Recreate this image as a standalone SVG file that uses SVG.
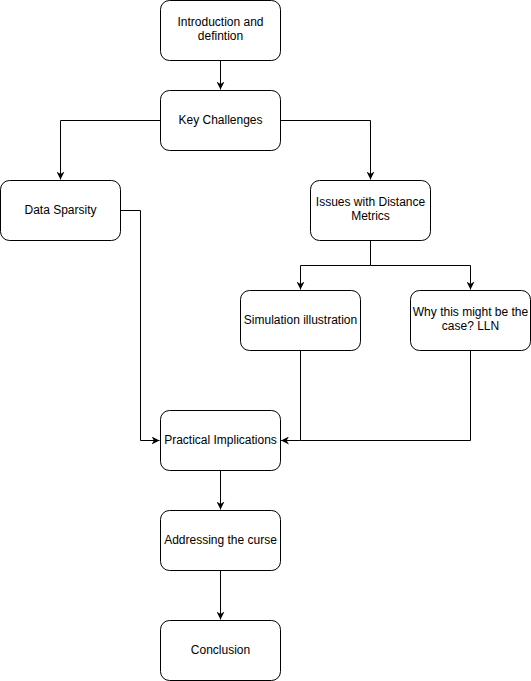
<svg xmlns="http://www.w3.org/2000/svg" width="531" height="681" viewBox="0 0 531 681">
<style>
.node rect{fill:#ffffff;stroke:#000000;stroke-width:1}
.node text{font-family:"Liberation Sans",Arial,Helvetica,sans-serif;font-size:12px;fill:#000000;text-anchor:middle}
.edge{fill:none;stroke:#000000;stroke-width:1}
</style>
<defs>
<marker id="arr" viewBox="0 0 10 10" refX="10" refY="5" markerWidth="8" markerHeight="8" markerUnits="userSpaceOnUse" orient="auto">
<path d="M0,0 L10,5 L0,10 L3,5 Z" fill="#000000"/>
</marker>
</defs>
<rect x="0" y="0" width="531" height="681" fill="#ffffff"/>
<g id="connectors">
<path class="edge" d="M220.5,60.5 V89.5" marker-end="url(#arr)"/>
<path class="edge" d="M160.5,120.5 H60.5 V179.5" marker-end="url(#arr)"/>
<path class="edge" d="M280.5,120.5 H370.5 V179.5" marker-end="url(#arr)"/>
<path class="edge" d="M370.5,240.5 V265.5 H300.5 V289.5" marker-end="url(#arr)"/>
<path class="edge" d="M370.5,265.5 H470.5 V289.5" marker-end="url(#arr)"/>
<path class="edge" d="M120.5,210.5 H140.5 V440.5 H159.5" marker-end="url(#arr)"/>
<path class="edge" d="M300.5,350.5 V440.5 H281" marker-end="url(#arr)"/>
<path class="edge" d="M470.5,350.5 V440.5 H300.5"/>
<path class="edge" d="M220.5,470.5 V509.5" marker-end="url(#arr)"/>
<path class="edge" d="M220.5,570.5 V619.5" marker-end="url(#arr)"/>
</g>
<g id="intro" class="node"><rect x="160.5" y="0.5" width="120" height="60" rx="9"/><text x="220.5" y="26">Introduction and</text><text x="220.5" y="40">defintion</text></g>
<g id="key" class="node"><rect x="160.5" y="90.5" width="120" height="60" rx="9"/><text x="220.5" y="124">Key Challenges</text></g>
<g id="sparsity" class="node"><rect x="0.5" y="180.5" width="120" height="60" rx="9"/><text x="60.5" y="214">Data Sparsity</text></g>
<g id="distance" class="node"><rect x="310.5" y="180.5" width="120" height="60" rx="9"/><text x="370.5" y="206">Issues with Distance</text><text x="370.5" y="220">Metrics</text></g>
<g id="simulation" class="node"><rect x="240.5" y="290.5" width="120" height="60" rx="9"/><text x="300.5" y="324">Simulation illustration</text></g>
<g id="why" class="node"><rect x="410.5" y="290.5" width="120" height="60" rx="9"/><text x="470.5" y="316">Why this might be the</text><text x="470.5" y="330">case? LLN</text></g>
<g id="practical" class="node"><rect x="160.5" y="410.5" width="120" height="60" rx="9"/><text x="220.5" y="444">Practical Implications</text></g>
<g id="addressing" class="node"><rect x="160.5" y="510.5" width="120" height="60" rx="9"/><text x="220.5" y="544">Addressing the curse</text></g>
<g id="conclusion" class="node"><rect x="160.5" y="620.5" width="120" height="60" rx="9"/><text x="220.5" y="654">Conclusion</text></g>
</svg>
